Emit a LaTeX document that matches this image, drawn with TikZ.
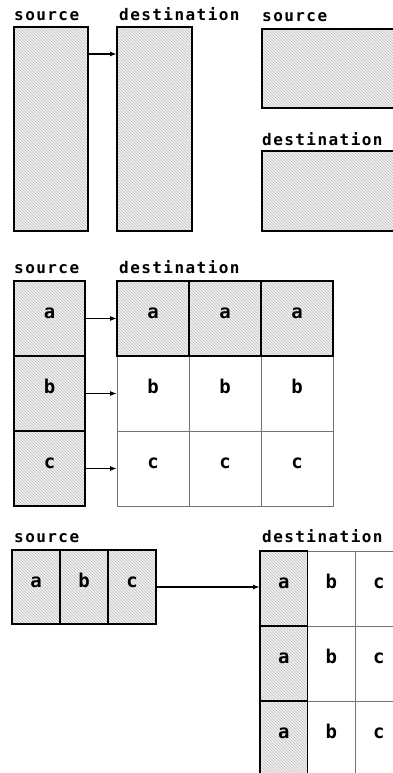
\documentclass[tikz,border=0pt]{standalone}
\usepackage{fontspec}
\usetikzlibrary{positioning,patterns,arrows.meta}
\newfontfamily\ttlfont[LetterSpace=9]{DejaVu Sans Mono}
\newfontfamily\lblfont{DejaVu Sans Mono}
\tikzset{
  cell/.style={rectangle, inner sep=0pt, outer sep=0pt, anchor=north west,
    text height=10pt, text depth=10pt,
    font=\lblfont\bfseries\fontsize{19}{19}\selectfont},
  shaded/.style={cell, draw=black, line width=1.8pt, pattern=north west lines,
    pattern color=gray!50, preaction={fill=gray!10}},
  plain/.style={cell, draw=black!55, line width=1pt},
  title/.style={anchor=base west, inner sep=0pt,
    font=\ttlfont\bfseries\fontsize{16}{16}\selectfont},
  link/.style={-{Latex[length=7pt,width=5pt]}, line width=1.5pt},
  srccell/.style={minimum width=71, minimum height=75},
  dstcell/.style={minimum width=72, minimum height=75},
  rowcell/.style={minimum width=48, minimum height=74},
  gridcell/.style={minimum width=47.5, minimum height=75},
}
\begin{document}
\begin{tikzpicture}[x=1pt, y=-1pt]
  \useasboundingbox (0,0) rectangle (393,773);
  \clip (0,0) rectangle (393,773);

  % whole strips
  \node[title] (t1s) at (14,21) {source};
  \node[title] (t1d) at (119,21) {destination};
  \node[shaded, minimum width=74, minimum height=204] (tall1) at (14,27) {};
  \node[shaded, minimum width=75, minimum height=204] (tall2) at (117,27) {};
  \coordinate (p1) at (tall1.east |- 0,54);
  \draw[link] (p1) -- (p1 -| tall2.west);

  \node[title] (t1r) at (262,22) {source};
  \node[shaded, minimum width=140, minimum height=79] (wide1) at (262,29) {};
  \node[title] (t1q) at (262,145) {destination};
  \node[shaded, minimum width=140, minimum height=80] (wide2) at (262,151) {};

  % column into rows
  \node[title] (t2s) at (14,273) {source};
  \node[title] (t2d) at (119,273) {destination};
  \node[shaded, srccell] (sa) at (14,281) {a};
  \node[shaded, srccell, below=0pt of sa] (sb) {b};
  \node[shaded, srccell, below=0pt of sb] (sc) {c};

  \node[plain, dstcell] (db1) at (117,356) {b};
  \node[plain, dstcell, right=0pt of db1] (db2) {b};
  \node[plain, dstcell, right=0pt of db2] (db3) {b};
  \node[plain, dstcell, below=0pt of db1] (dc1) {c};
  \node[plain, dstcell, below=0pt of db2] (dc2) {c};
  \node[plain, dstcell, below=0pt of db3] (dc3) {c};
  \node[shaded, dstcell] (da1) at (117,281) {a};
  \node[shaded, dstcell, right=0pt of da1] (da2) {a};
  \node[shaded, dstcell, right=0pt of da2] (da3) {a};

  \draw[link] (sa) -- (da1);
  \draw[link] (sb) -- (db1);
  \draw[link] (sc) -- (dc1);

  % row into columns
  \node[title] (t3s) at (14,542) {source};
  \node[title] (t3d) at (262,542) {destination};
  \node[shaded, rowcell] (pa) at (12,550) {a};
  \node[shaded, rowcell, right=0pt of pa] (pb) {b};
  \node[shaded, rowcell, right=0pt of pb] (pc) {c};

  \node[plain, gridcell] (qb1) at (307.5,551) {b};
  \node[plain, gridcell, right=0pt of qb1] (qc1) {c};
  \node[plain, gridcell, below=0pt of qb1] (qb2) {b};
  \node[plain, gridcell, below=0pt of qc1] (qc2) {c};
  \node[plain, gridcell, below=0pt of qb2] (qb3) {b};
  \node[plain, gridcell, below=0pt of qc2] (qc3) {c};
  \node[shaded, gridcell] (qa1) at (260,551) {a};
  \node[shaded, gridcell, below=0pt of qa1] (qa2) {a};
  \node[shaded, gridcell, below=0pt of qa2] (qa3) {a};

  \draw[link] (pc.east) -- (pc.east -| qa1.west);
\end{tikzpicture}
\end{document}
